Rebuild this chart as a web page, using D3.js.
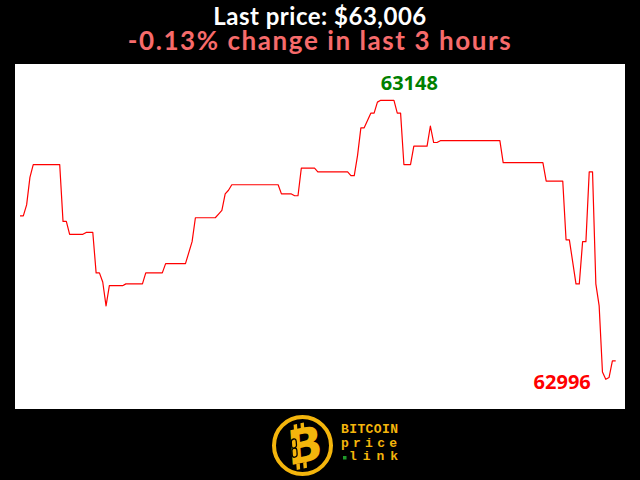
<!DOCTYPE html>
<html>
<head>
<meta charset="utf-8">
<script src="https://cdn.jsdelivr.net/npm/d3@7"></script>
<style>
  html, body { margin: 0; padding: 0; background: #000; }
  svg { display: block; }
</style>
</head>
<body>
<svg id="chart" width="640" height="480"></svg>
<script>
// ---- Data (minute index within the last 3 hours, price in USD) ----
const minutes = [0,1,2,3,4,12,13,14,15,19,20,22,23,24,25,26,27,31,32,37,38,43,44,50,52,53,59,60,61,62,63,64,78,79,82,83,84,85,89,90,99,100,101,102,103,104,106,107,108,109,113,114,115,116,118,119,123,124,125,126,127,145,146,158,159,164,165,166,168,169,170,171,172,173,174,175,176,177,178,179,180];
const prices  = [63085,63085,63091,63106,63113,63113,63082,63082,63075,63075,63076,63076,63054,63054,63049,63036,63047,63047,63048,63048,63054,63054,63059,63059,63071,63084,63084,63086,63088,63097,63099,63102,63102,63097,63097,63096,63096,63111,63111,63109,63109,63107,63107,63118,63133,63133,63141,63141,63147,63148,63148,63141,63141,63113,63113,63123,63123,63134,63125,63125,63126,63126,63114,63114,63104,63104,63072,63072,63048,63048,63071,63071,63109,63109,63048,63036,63000,62996,62997,63006,63006];
const titleText = "Last price: $63,006";
const changeText = "-0.13% change in last 3 hours";
const logoLines = ["BITCOIN", "price", "link"];

const points = minutes.map((m, i) => ({ m, p: prices[i] }));
const svg = d3.select("#chart");

// Background
svg.append("rect").attr("x", 0).attr("y", 0).attr("width", 640).attr("height", 480).attr("fill", "#000");
// Plot panel
svg.append("rect").attr("x", 15).attr("y", 64).attr("width", 610).attr("height", 345).attr("fill", "#fff");

// Scales
const x = d3.scaleLinear().domain([0, 180]).range([20, 615.7]);
const maxP = d3.max(prices), minP = d3.min(prices);
const y = d3.scaleLinear().domain([minP, maxP]).range([379.3, 100.3]);

// Line
const line = d3.line().x(d => x(d.m)).y(d => y(d.p));
svg.append("path").datum(points)
  .attr("d", line)
  .attr("fill", "none")
  .attr("stroke", "#ff0000")
  .attr("stroke-width", 1.2)
  .attr("stroke-linejoin", "round");

// Max / min labels
const maxPt = points.find(d => d.p === maxP);
const minPt = points.find(d => d.p === minP);
svg.append("text")
  .attr("x", x(maxPt.m)).attr("y", y(maxPt.p) - 10)
  .attr("text-anchor", "start")
  .attr("font-family", "'Noto Sans', sans-serif").attr("font-weight", "bold").attr("font-size", 20)
  .attr("fill", "#008000").text(String(maxP));
svg.append("text")
  .attr("x", x(minPt.m) - 15).attr("y", y(minPt.p) + 10)
  .attr("text-anchor", "end")
  .attr("font-family", "'Noto Sans', sans-serif").attr("font-weight", "bold").attr("font-size", 20)
  .attr("fill", "#ff0000").text(String(minP));

// Titles (letter spacing fitted to target width)
function fitSpacing(sel, target) {
  const w = sel.node().getComputedTextLength();
  const n = sel.text().length;
  sel.attr("letter-spacing", (target - w) / (n - 1));
}
const t1 = svg.append("text")
  .attr("x", 320).attr("y", 25).attr("text-anchor", "middle")
  .attr("font-family", "Lato, sans-serif").attr("font-weight", "bold").attr("font-size", 24)
  .attr("fill", "#ffffff").text(titleText);
fitSpacing(t1, 213);
const t2 = svg.append("text")
  .attr("x", 320).attr("y", 50).attr("text-anchor", "middle")
  .attr("font-family", "Lato, sans-serif").attr("font-weight", "bold").attr("font-size", 26)
  .attr("fill", "#f76b6b").text(changeText);
fitSpacing(t2, 383);

// Logo
const gold = "#f4b50c";
const logo = svg.append("g");
logo.append("circle").attr("cx", 302.5).attr("cy", 445.5).attr("r", 28.5)
  .attr("fill", "none").attr("stroke", gold).attr("stroke-width", 4);
const bg = logo.append("g").attr("transform", "translate(304,446) rotate(-12) skewX(-8)");
bg.append("text").attr("x", 1).attr("y", 16)
  .attr("text-anchor", "middle")
  .attr("font-family", "'DejaVu Sans', sans-serif").attr("font-weight", "bold").attr("font-size", 47)
  .attr("fill", gold).text("B");
// bitcoin ticks
[-9, -2].forEach(dx => {
  bg.append("rect").attr("x", dx).attr("y", -23).attr("width", 3.5).attr("height", 6).attr("fill", gold);
  bg.append("rect").attr("x", dx).attr("y", 16).attr("width", 3.5).attr("height", 6).attr("fill", gold);
});
// chain link on stem
bg.append("rect").attr("x", -12.5).attr("y", -9).attr("width", 5).attr("height", 9).attr("rx", 2.5)
  .attr("fill", "none").attr("stroke", "#000").attr("stroke-width", 1.3);
bg.append("rect").attr("x", -12.5).attr("y", 0).attr("width", 5).attr("height", 9).attr("rx", 2.5)
  .attr("fill", "none").attr("stroke", "#000").attr("stroke-width", 1.3);

const lt = logo.append("g")
  .attr("font-family", "'Liberation Mono', 'DejaVu Sans Mono', monospace")
  .attr("font-weight", "bold").attr("font-size", 13).attr("fill", gold);
lt.append("text").attr("x", 341).attr("y", 433).attr("textLength", 57).attr("lengthAdjust", "spacing").text(logoLines[0]);
lt.append("text").attr("x", 341).attr("y", 446.5).attr("textLength", 56).attr("lengthAdjust", "spacing").text(logoLines[1]);
lt.append("text").attr("x", 349).attr("y", 460).attr("textLength", 49).attr("lengthAdjust", "spacing").text(logoLines[2]);
logo.append("rect").attr("x", 343).attr("y", 456).attr("width", 3.5).attr("height", 3.5).attr("fill", "#1f9a2a");
</script>
</body>
</html>
